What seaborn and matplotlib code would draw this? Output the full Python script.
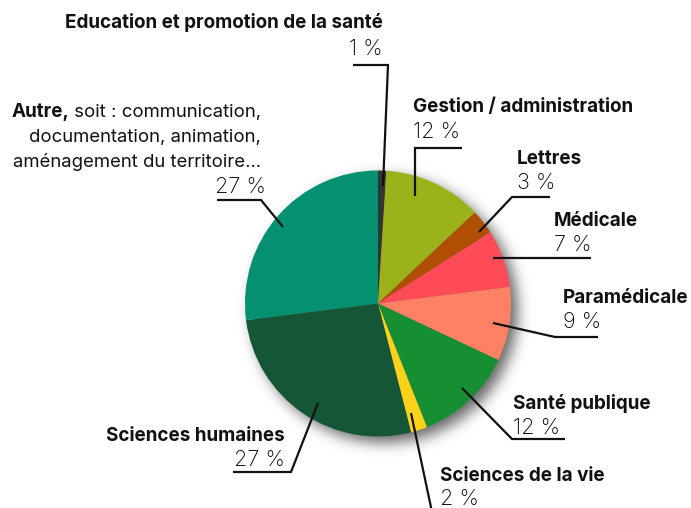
import numpy as np
import matplotlib
matplotlib.use("Agg")
import matplotlib.pyplot as plt
import seaborn as sns

# ---- data ----
categories = ["Education et promotion de la santé", "Gestion / administration", "Lettres",
              "Médicale", "Paramédicale", "Santé publique", "Sciences de la vie",
              "Sciences humaines", "Autre"]
values = [1, 12, 3, 7, 9, 12, 2, 27, 27]
pct_labels = ["1 %", "12 %", "3 %", "7 %", "9 %", "12 %", "2 %", "27 %", "27 %"]
colors = ["#333333", "#9bb21a", "#b04f04", "#ff4a57", "#ff8062", "#168f33",
          "#ffd21a", "#155637", "#049172"]

sns.set_theme(style="white")
FONT = ['Inter', 'Roboto', 'DejaVu Sans']
plt.rcParams['font.family'] = FONT

W, H = 691, 508
fig = plt.figure(figsize=(W / 100, H / 100), dpi=100)
ax = fig.add_axes([0, 0, 1, 1])

def Y(y):
    return H - y

cx, cy, R = 378, 303.5, 133

# soft drop shadow
ext = 170
n = 340
xs = np.linspace(cx - ext, cx + ext, n)
ys = np.linspace(Y(cy) - ext, Y(cy) + ext, n)
XX, YY = np.meshgrid(xs, ys)
off = 7
d = np.sqrt((XX - cx - off) ** 2 + (YY - Y(cy) + off) ** 2)
mask = (d <= R).astype(float)
sig = 7.0
k = np.arange(-25, 26)
g = np.exp(-k ** 2 / (2 * (sig * n / (2 * ext)) ** 2))
g /= g.sum()
blur = np.apply_along_axis(lambda r: np.convolve(r, g, mode='same'), 1, mask)
blur = np.apply_along_axis(lambda c: np.convolve(c, g, mode='same'), 0, blur)
img = np.zeros((n, n, 4))
img[..., 3] = blur * 0.6
ax.imshow(img, extent=(xs[0], xs[-1], ys[0], ys[-1]), origin='lower', zorder=0,
          interpolation='bilinear')

ax.pie(values, colors=sns.color_palette(colors), startangle=90, counterclock=False,
       center=(cx, Y(cy)), radius=R, wedgeprops=dict(linewidth=0), frame=True)

ax.set_xlim(0, W)
ax.set_ylim(0, H)
ax.set_aspect('equal')
ax.axis('off')

fig.canvas.draw()
renderer = fig.canvas.get_renderer()

def fit_size(s, target_px, weight):
    t = ax.text(0, 0, s, fontsize=10, fontweight=weight)
    w = t.get_window_extent(renderer=renderer).width
    t.remove()
    return 10 * target_px / w

name_fs = np.mean([fit_size("Gestion / administration", 227, "bold"),
                   fit_size("Education et promotion de la santé", 320, "bold"),
                   fit_size("Sciences humaines", 175, "bold"),
                   fit_size("Santé publique", 137, "bold")])
pct_fs = fit_size("12 %", 47, "light")
reg_fs = fit_size("documentation, animation,", 233, "normal")
txt_col = "#111111"

# layout: (ha, x, name_baseline, pct_x, pct_baseline)
layout = [
    ("right", 383, 28, 383, 55),
    ("left", 413, 112, 413, 138),
    ("left", 517, 164, 517, 189),
    ("left", 554, 226, 554, 251),
    ("left", 563, 303, 563, 328),
    ("left", 513, 409, 513, 434),
    ("left", 440, 481, 440, 505),
    ("right", 285, 441, 285, 466),
    ("right", 261, 117, 266, 193),
]
leaders = [
    [(353, 65), (388, 65), (383, 186)],
    [(462, 148), (415, 148), (415, 196)],
    [(550, 197), (512, 197), (479, 232)],
    [(591, 258), (493, 258)],
    [(598, 337), (555, 337), (493, 323)],
    [(565, 439), (512, 439), (462, 388)],
    [(432, 512), (411, 413)],
    [(233, 472), (291, 472), (318, 403)],
    [(217, 200), (261, 200), (283, 227)],
]

for i, (cat, pct) in enumerate(zip(categories, pct_labels)):
    ha, x, nb, px, pb = layout[i]
    if cat == "Autre":
        t = ax.text(x, Y(nb), " soit : communication,", ha="right", va="baseline",
                    fontsize=reg_fs, color=txt_col, fontweight="normal")
        bb = t.get_window_extent(renderer=renderer)
        x0 = ax.transData.inverted().transform((bb.x0, bb.y0))[0]
        ax.text(x0, Y(nb), "Autre,", ha="right", va="baseline", fontsize=name_fs,
                color=txt_col, fontweight="bold")
        ax.text(x, Y(nb + 25), "documentation, animation,", ha="right", va="baseline",
                fontsize=reg_fs, color=txt_col)
        ax.text(x, Y(nb + 50), "aménagement du territoire…", ha="right", va="baseline",
                fontsize=reg_fs, color=txt_col)
    else:
        ax.text(x, Y(nb), cat, ha=ha, va="baseline", fontsize=name_fs,
                color=txt_col, fontweight="bold")
    ax.text(px, Y(pb), pct, ha=ha, va="baseline", fontsize=pct_fs,
            color="#000000", fontweight="light")
    pts = leaders[i]
    ax.plot([p[0] for p in pts], [Y(p[1]) for p in pts], color="#111111",
            lw=1.6, solid_capstyle="butt", solid_joinstyle="miter", zorder=5)

fig.savefig("out.png", dpi=100)
